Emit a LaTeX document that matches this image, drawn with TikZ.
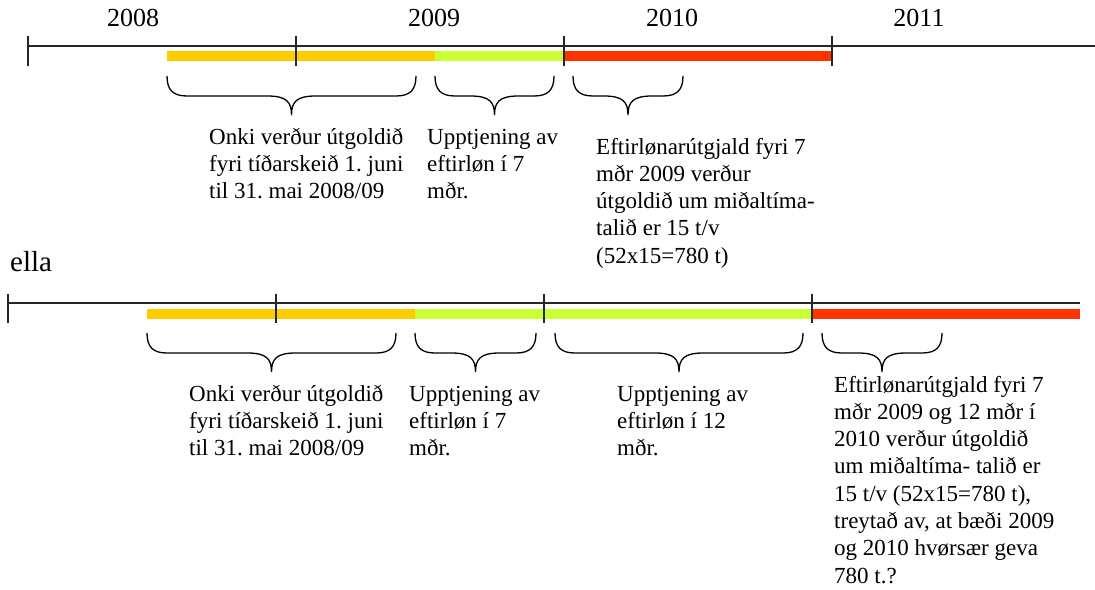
\documentclass[tikz,border=0pt]{standalone}
\usepackage{fontspec}
\setmainfont{Liberation Serif}
\usepackage{tikz}
\usetikzlibrary{positioning, calc}
\frenchspacing
\definecolor{barYellow}{HTML}{FFCC00}
\definecolor{barLime}{HTML}{CCFF33}
\definecolor{barRed}{HTML}{FF3300}
\tikzset{
  axis/.style={
    draw=black!85,
    line width=2pt
  },
  tick/.style={
    draw=black!85,
    line width=1.8pt
  },
  bar/.style={
    line width=10pt,
    line cap=butt
  },
  brace/.style={
    draw=black,
    line width=1.3pt
  },
  year/.style={
    anchor=base,
    inner sep=0pt,
    font=\fontsize{26}{30}\selectfont
  },
  note/.style={
    anchor=base west,
    inner sep=0pt,
    align=left,
    font=\fontsize{23}{27.3}\selectfont
  }
}
% curly brace under a span: name of tip, x from, x to, y top
\newcommand\curly[4]{%
  \draw[brace] (#2,#4) .. controls (#2,{#4+14}) and ({#2+6},{#4+20}) .. ({#2+20},{#4+20})
    -- ({(#2+#3)/2-24},{#4+20}) .. controls ({(#2+#3)/2-5},{#4+20}) and ({(#2+#3)/2},{#4+26}) .. ({(#2+#3)/2},{#4+39}) coordinate (#1)
    .. controls ({(#2+#3)/2},{#4+26}) and ({(#2+#3)/2+5},{#4+20}) .. ({(#2+#3)/2+24},{#4+20})
    -- ({#3-20},{#4+20}) .. controls ({#3-6},{#4+20}) and (#3,{#4+14}) .. (#3,#4);
}

\begin{document}
\begin{tikzpicture}[x=1pt, y=-1pt]
\useasboundingbox (0,0) rectangle (1095,589);

%% upper time line
% years
\node[year] (y2008) at (133,27) {2008};
\node[year] (y2009) at (434,27) {2009};
\node[year] (y2010) at (672,27) {2010};
\node[year] (y2011) at (919,27) {2011};

% bars
\draw[bar, barYellow] (167,56) -- (435,56);
\draw[bar, barLime] (435,56) -- (564,56);
\draw[bar, barRed] (564,56) -- (832,56);

% axis and ticks
\coordinate (a0) at (28,46);
\coordinate (a1) at (1095,46);
\draw[axis] (a0) -- (a1);
\foreach \x in {28,296,564,832}
  \draw[tick] (\x,36) -- (\x,66);

% braces
\curly{ta}{167}{416}{76}
\curly{tb}{435}{554}{76}
\curly{tc}{573}{683}{76}

% notes (base = last line)
\node[note] (na) at (209,198.6)
  {Onki verður útgoldið\\fyri tíðarskeið 1. juni\\til 31. mai 2008/09};
\node[note] (nb) at (427,198.6)
  {Upptjening av\\eftirløn í 7\\mðr.};
\node[note] (nc) at (596,263.2)
  {Eftirlønarútgjald fyri 7\\mðr 2009 verður\\útgoldið um miðaltíma-\\talið er 15 t/v\\(52x15=780 t)};

%% lower time line
\node[anchor=base west, inner sep=0pt, font=\fontsize{29}{33}\selectfont] (alt) at (10,271) {ella};

% bars
\draw[bar, barYellow] (147,314) -- (415,314);
\draw[bar, barLime] (415,314) -- (812,314);
\draw[bar, barRed] (812,314) -- (1080,314);

% axis and ticks
\coordinate (b0) at (8,303);
\coordinate (b1) at (1080,303);
\draw[axis] (b0) -- (b1);
\foreach \x in {8,276,544,812}
  \draw[tick] (\x,294) -- (\x,323);

% braces
\curly{ba}{147}{396}{333}
\curly{bb}{415}{536}{333}
\curly{bc}{555}{803}{333}
\curly{bd}{822}{942}{333}

% notes (base = last line)
\node[note] (ma) at (189,455.6)
  {Onki verður útgoldið\\fyri tíðarskeið 1. juni\\til 31. mai 2008/09};
\node[note] (mb) at (409,455.6)
  {Upptjening av\\eftirløn í 7\\mðr.};
\node[note] (mc) at (617,455.6)
  {Upptjening av\\eftirløn í 12\\mðr.};
\node[note] (md) at (834,583.1)
  {Eftirlønarútgjald fyri 7\\mðr 2009 og 12 mðr í\\2010 verður útgoldið\\um miðaltíma- talið er\\15 t/v (52x15=780 t),\\treytað av, at bæði 2009\\og 2010 hvørsær geva\\780 t.?};

\end{tikzpicture}
\end{document}
